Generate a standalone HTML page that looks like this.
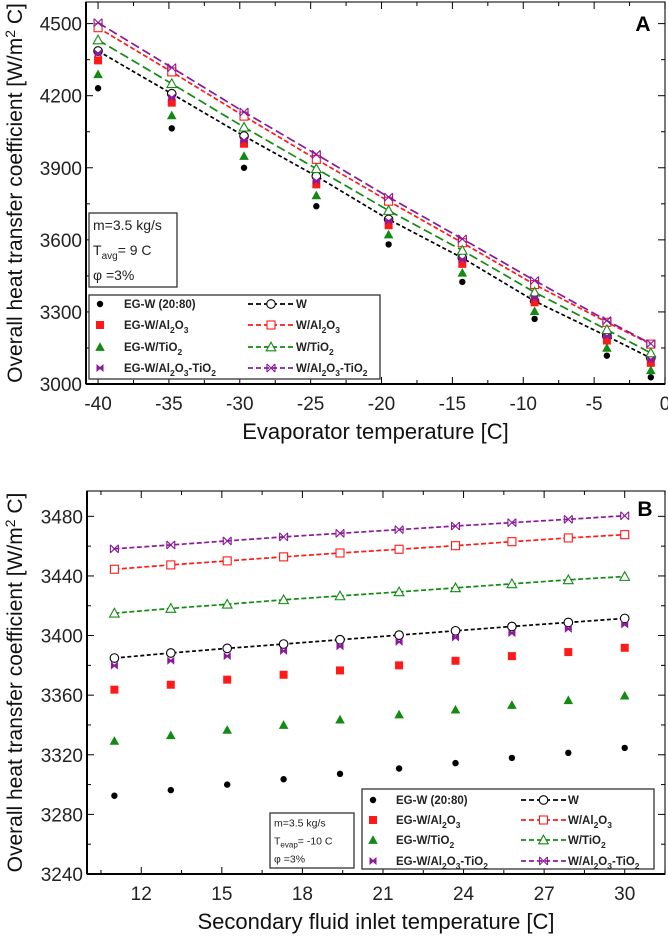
<!DOCTYPE html>
<html><head><meta charset="utf-8"><style>
body{margin:0;background:#fff;}
svg{display:block;font-family:"Liberation Sans",Arial,sans-serif;}
</style></head><body>
<svg id="chart" width="668" height="938" viewBox="0 0 668 938" xmlns="http://www.w3.org/2000/svg"></svg>
<script>
// ---- Panel A data ----
const aX = [-40, -34.8, -29.7, -24.6, -19.5, -14.3, -9.2, -4.1, -1];
const aW = [4386, 4208, 4032, 3865, 3685, 3525, 3345, 3199, 3108];
const aWAl = [4483, 4299, 4115, 3935, 3761, 3588, 3414, 3257, 3166];
const aWTi = [4432, 4250, 4069, 3896, 3722, 3556, 3382, 3226, 3129];
const aWMix = [4504, 4317, 4132, 3956, 3778, 3604, 3431, 3264, 3168];
const aEG = [4231, 4064, 3900, 3740, 3581, 3425, 3271, 3118, 3028];
const aEGAl = [4347, 4171, 4000, 3831, 3661, 3500, 3340, 3181, 3088];
const aEGTi = [4289, 4118, 3949, 3785, 3622, 3463, 3303, 3150, 3057];
const aEGMix = [4376, 4192, 4014, 3845, 3678, 3518, 3358, 3199, 3101];
const aXTicks = [-40, -35, -30, -25, -20, -15, -10, -5, 0];
const aYTicks = [3000, 3300, 3600, 3900, 4200, 4500];
// ---- Panel B data ----
const bX = [11, 13.1, 15.2, 17.3, 19.4, 21.6, 23.7, 25.8, 27.9, 30];
const bW = [3384.9, 3388.3, 3391.4, 3394.3, 3397.2, 3400.3, 3403.2, 3406.1, 3408.8, 3411.5];
const bWAl = [3444.5, 3447.4, 3450.1, 3452.8, 3455.4, 3457.9, 3460.3, 3463, 3465.5, 3467.7];
const bWTi = [3415, 3418.2, 3421, 3424, 3426.6, 3429.3, 3432, 3434.7, 3437.4, 3439.6];
const bWMix = [3458.2, 3460.8, 3463.5, 3466.2, 3468.6, 3471.1, 3473.5, 3475.8, 3478, 3480.4];
const bEG = [3292.5, 3296.3, 3300, 3303.6, 3307.2, 3310.8, 3314.4, 3317.9, 3321.3, 3324.6];
const bEGAl = [3363.7, 3367, 3370.4, 3373.7, 3376.6, 3380, 3383.1, 3386.2, 3388.9, 3391.8];
const bEGTi = [3329.3, 3333.1, 3336.7, 3340, 3343.6, 3347, 3350.3, 3353.4, 3356.6, 3359.7];
const bEGMix = [3379.8, 3383.1, 3386.2, 3389.6, 3392.7, 3395.8, 3398.7, 3401.6, 3404.5, 3407.4];
const bXTicks = [12, 15, 18, 21, 24, 27, 30];
const bYTicks = [3240, 3280, 3320, 3360, 3400, 3440, 3480];

const NS = "http://www.w3.org/2000/svg";
const root = document.getElementById('chart');
function mk(tag, attrs, parent, text){
  const e = document.createElementNS(NS, tag);
  for (const k in attrs) e.setAttribute(k, attrs[k]);
  if (text !== undefined) e.textContent = text;
  (parent||root).appendChild(e);
  return e;
}
const BLACK='#000', RED='#ff1a1a', GREEN='#138a13', PURPLE='#8a1a9a';

function marker(g, type, x, y, color, open){
  let e;
  if (type==='dot'){ e = mk('circle',{cx:x,cy:y,r:3.2,fill:color},g); }
  else if (type==='circle'){ e = mk('circle',{cx:x,cy:y,r:4.3,fill:'#fff',stroke:color,'stroke-width':1.1},g); }
  else if (type==='square'){ const s=8; e = mk('rect',{x:x-s/2,y:y-s/2,width:s,height:s,fill:open?'#fff':color,stroke:color,'stroke-width':open?1.1:0},g); }
  else if (type==='tri'){ const s=4.8; e = mk('polygon',{points:`${x},${y-s} ${x-s},${y+s*0.8} ${x+s},${y+s*0.8}`,fill:open?'#fff':color,stroke:color,'stroke-width':open?1.1:0},g); }
  else if (type==='bowtie'){ e = mk('polygon',{points:`${x-3.5},${y-4} ${x},${y-1} ${x+3.5},${y-4} ${x+3.5},${y+4} ${x},${y+1} ${x-3.5},${y+4}`,fill:color},g); }
  else if (type==='xbow'){ e = mk('path',{d:`M${x-4},${y-4}L${x+4},${y+4}M${x+4},${y-4}L${x-4},${y+4}M${x-4},${y-4}V${y+4}M${x+4},${y-4}V${y+4}`,fill:'none',stroke:color,'stroke-width':1.1},g); }
  return e;
}

function panel(cfg){
  const g = mk('g',{});
  
  
  const {L,R,T,B,xmin,xmax,ymin,ymax} = cfg;
  const sx = v => L + (v-xmin)/(xmax-xmin)*(R-L);
  const sy = v => B - (v-ymin)/(ymax-ymin)*(B-T);
  const fr = mk('rect',{x:L,y:T,width:R-L,height:B-T,fill:'none',stroke:'#222','stroke-width':1.2},g);
  
  
  mk('line',{x1:L,y1:B,x2:R,y2:B,stroke:'#000','stroke-width':2},g);
  mk('line',{x1:L,y1:T,x2:L,y2:B,stroke:'#000','stroke-width':2},g);
  const xt = cfg.xTicks, yt = cfg.yTicks;
  const dx = xt[1]-xt[0], dy = yt[1]-yt[0];
  for (let v = xt[0]-dx; v <= xmax+1e-9; v += dx/2){
    if (v < xmin-1e-9) continue;
    const major = Math.abs(((v-xt[0])/dx) - Math.round((v-xt[0])/dx))<1e-6;
    const len = major?7:4, x = sx(v);
    mk('line',{x1:x,y1:B,x2:x,y2:B-len,stroke:'#000','stroke-width':1},g);
    mk('line',{x1:x,y1:T,x2:x,y2:T+len,stroke:'#000','stroke-width':1},g);
  }
  for (let v = yt[0]; v <= ymax+1e-9; v += dy/2){
    const major = Math.abs(((v-yt[0])/dy) - Math.round((v-yt[0])/dy))<1e-6;
    const len = major?7:4, y = sy(v);
    mk('line',{x1:L,y1:y,x2:L+len,y2:y,stroke:'#000','stroke-width':1},g);
    mk('line',{x1:R,y1:y,x2:R-len,y2:y,stroke:'#000','stroke-width':1},g);
  }
  xt.forEach(v=>{
    const t = mk('text',{x:sx(v),y:B+26,'font-size':19,'text-anchor':'middle',fill:'#222'},g,String(v));
    
    
  });
  yt.forEach(v=>{
    const t = mk('text',{x:L-4,y:sy(v)+7,'font-size':19,'text-anchor':'end',fill:'#222'},g,String(v));
    
    
  });
  cfg.lines.forEach(s=>{
    const pts = cfg.xs.map((x,i)=>sx(x)+','+sy(s.v[i])).join(' ');
    const pl = mk('polyline',{points:pts,fill:'none',stroke:s.c,'stroke-width':1.7,'stroke-dasharray':s.dash},g);
    
    
    cfg.xs.forEach((x,i)=>{
      const m = marker(g,s.m,sx(x),sy(s.v[i]),s.c,true);
      
      
    });
  });
  cfg.pts.forEach(s=>{
    cfg.xs.forEach((x,i)=>{
      const m = marker(g,s.m,sx(x),sy(s.v[i]),s.c,false);
      
      
    });
  });
  const ib = cfg.info;
  const ibr = mk('rect',{x:ib.x,y:ib.y,width:ib.w,height:ib.h,fill:'#fff',stroke:'#333','stroke-width':1.3},g);
  
  
  ib.lines.forEach((ln,i)=>{
    const t = mk('text',{x:ib.x+4,y:ib.y+ib.fs+3+i*ib.lh,'font-size':ib.fs,fill:'#222'},g);
    t.innerHTML = ln;
    
    
  });
  const lg = cfg.leg;
  const lr = mk('rect',{x:lg.x,y:lg.y,width:lg.w,height:lg.h,fill:'#fff',stroke:'#333','stroke-width':1.3},g);
  
  
  cfg.pts.forEach((s,i)=>{
    const y = lg.rows[i];
    marker(g,s.m,lg.mx,y,s.c,false);
    const t = mk('text',{x:lg.tx,y:y+4,'font-size':11.5,'font-weight':'bold',fill:'#222'},g);
    t.innerHTML = s.label;
    
    
  });
  cfg.lines.forEach((s,i)=>{
    const y = lg.rows[i];
    mk('line',{x1:lg.l1,y1:y,x2:lg.l2,y2:y,stroke:s.c,'stroke-width':1.7,'stroke-dasharray':'5,3'},g);
    marker(g,s.m,(lg.l1+lg.l2)/2,y,s.c,true);
    const t = mk('text',{x:lg.l2+2,y:y+4,'font-size':11.5,'font-weight':'bold',fill:'#222'},g);
    t.innerHTML = s.label;
    
    
  });
  const pl = mk('text',{x:cfg.letter.x,y:cfg.letter.y,'font-size':21,'font-weight':'bold','text-anchor':'middle'},g,cfg.letter.t);
  
  
  const xtt = mk('text',{x:(L+R)/2,y:cfg.xTitleY,'font-size':22,'text-anchor':'middle',fill:'#111'},g,cfg.xTitle);
  
  
  const cy = (T+B)/2;
  const ytt = mk('text',{x:0,y:0,'font-size':21,'text-anchor':'middle',fill:'#111',transform:`translate(22,${cy}) rotate(-90)`},g);
  ytt.innerHTML = 'Overall heat transfer coefficient [W/m<tspan dy="-7" font-size="14">2</tspan><tspan dy="7"> C]</tspan>';
  
  
}
const sub = s => `<tspan dy="4" font-size="8.5">${s}</tspan><tspan dy="-4">`;
const labEG = ['EG-W (20:80)', `EG-W/Al${sub('2')}O</tspan>${sub('3')}</tspan>`, `EG-W/TiO${sub('2')}</tspan>`, `EG-W/Al${sub('2')}O</tspan>${sub('3')}-TiO</tspan>${sub('2')}</tspan>`];
const labW = ['W', `W/Al${sub('2')}O</tspan>${sub('3')}</tspan>`, `W/TiO${sub('2')}</tspan>`, `W/Al${sub('2')}O</tspan>${sub('3')}-TiO</tspan>${sub('2')}</tspan>`];

panel({name:'panel-a', L:86, R:665, T:2, B:384, xmin:-40.85, xmax:0, ymin:3000, ymax:4590,
  xs:aX, xTicks:aXTicks, yTicks:aYTicks,
  lines:[{n:'w',v:aW,c:BLACK,m:'circle',dash:'4,2.5',label:labW[0]},
         {n:'w-al2o3',v:aWAl,c:RED,m:'square',dash:'5,2.5',label:labW[1]},
         {n:'w-tio2',v:aWTi,c:GREEN,m:'tri',dash:'9,4',label:labW[2]},
         {n:'w-al2o3-tio2',v:aWMix,c:PURPLE,m:'xbow',dash:'9,4',label:labW[3]}],
  pts:[{n:'eg-w',v:aEG,c:BLACK,m:'dot',label:labEG[0]},
       {n:'eg-w-al2o3',v:aEGAl,c:RED,m:'square',label:labEG[1]},
       {n:'eg-w-tio2',v:aEGTi,c:GREEN,m:'tri',label:labEG[2]},
       {n:'eg-w-al2o3-tio2',v:aEGMix,c:PURPLE,m:'bowtie',label:labEG[3]}],
  info:{x:89,y:213,w:88,h:74,fs:14,lh:25,lines:['m=3.5 kg/s','T<tspan dy="4" font-size="10">avg</tspan><tspan dy="-4">= 9 C</tspan>','φ =3%']},
  leg:{x:89,y:295,w:291,h:84,rows:[304,325,347,368],mx:100,tx:124,l1:248,l2:294},
  letter:{x:643,y:31,t:'A'}, xTitle:'Evaporator temperature [C]', xTitleY:439});

panel({name:'panel-b', L:87, R:665, T:491, B:874, xmin:9.98, xmax:31.5, ymin:3240, ymax:3497,
  xs:bX, xTicks:bXTicks, yTicks:bYTicks,
  lines:[{n:'w',v:bW,c:BLACK,m:'circle',dash:'4,2.5',label:labW[0]},
         {n:'w-al2o3',v:bWAl,c:RED,m:'square',dash:'5,2.5',label:labW[1]},
         {n:'w-tio2',v:bWTi,c:GREEN,m:'tri',dash:'5,2.5',label:labW[2]},
         {n:'w-al2o3-tio2',v:bWMix,c:PURPLE,m:'xbow',dash:'5,2.5',label:labW[3]}],
  pts:[{n:'eg-w',v:bEG,c:BLACK,m:'dot',label:labEG[0]},
       {n:'eg-w-al2o3',v:bEGAl,c:RED,m:'square',label:labEG[1]},
       {n:'eg-w-tio2',v:bEGTi,c:GREEN,m:'tri',label:labEG[2]},
       {n:'eg-w-al2o3-tio2',v:bEGMix,c:PURPLE,m:'bowtie',label:labEG[3]}],
  info:{x:270,y:813,w:84,h:55,fs:10.5,lh:18,lines:['m=3.5 kg/s','T<tspan dy="3" font-size="8">evap</tspan><tspan dy="-3">= -10 C</tspan>','φ =3%']},
  leg:{x:362,y:789,w:292,h:80,rows:[800,820,840,861],mx:373,tx:396,l1:521,l2:566},
  letter:{x:645,y:516,t:'B'}, xTitle:'Secondary fluid inlet temperature [C]', xTitleY:929});
</script>
</body></html>
